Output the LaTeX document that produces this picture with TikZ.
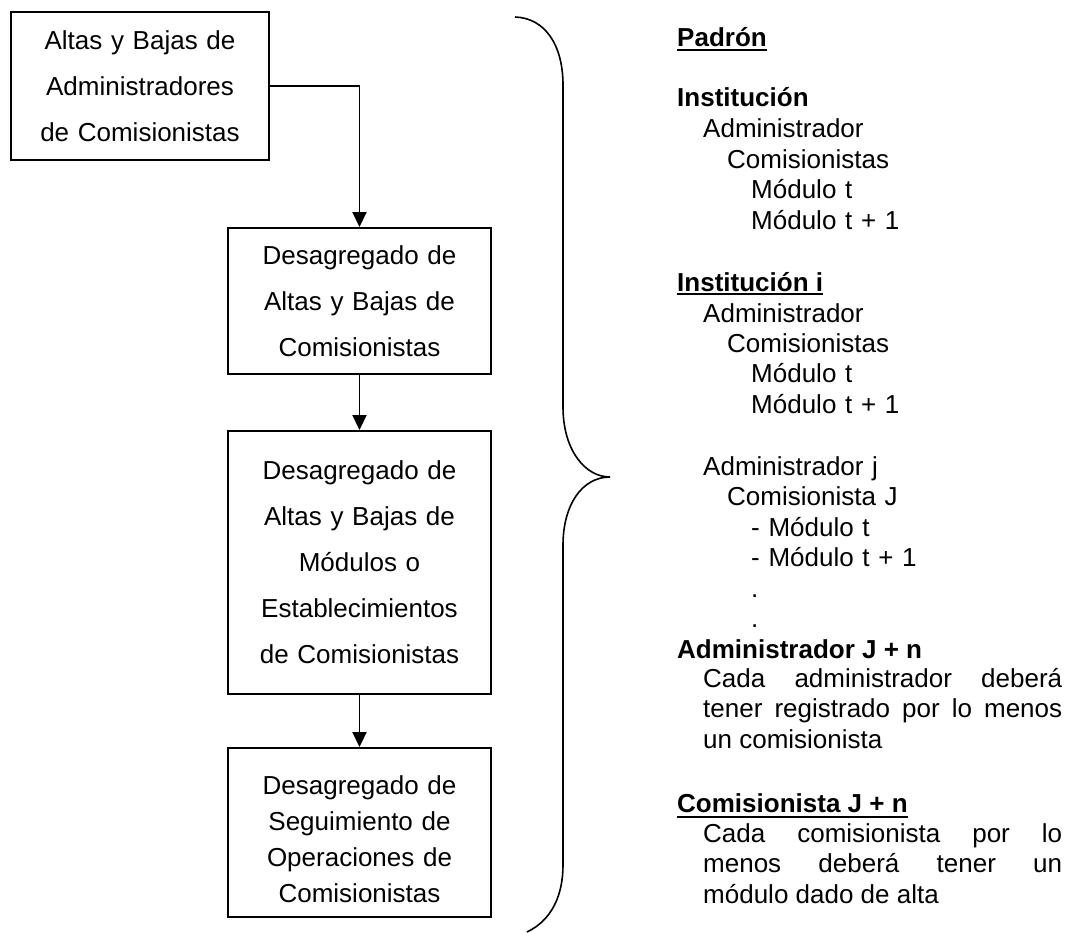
\documentclass[tikz,border=0pt]{standalone}
\usepackage{fontspec}
\setmainfont{Liberation Sans}
\usetikzlibrary{arrows.meta,positioning}

\begin{document}
\begin{tikzpicture}[x=1pt,y=-1pt,
    procbox/.style={draw, line width=1.9pt, inner sep=0pt, text width=250pt,
      align=center, font=\fontsize{26}{46}\selectfont},
    listtxt/.style={anchor=base west, inner sep=0pt, font=\fontsize{26}{30.5}\selectfont},
    parbox/.style={listtxt, text width=359pt, align=justify},
    flow/.style={-{Triangle[length=15pt,width=14pt]}, line width=1.9pt},
    uline/.style={line width=2pt}]
    \useasboundingbox (0,0) rectangle (1076,933);

    % Process boxes
    \node[procbox, minimum width=258pt, minimum height=148pt] (altas) at (140,86)
        {Altas y Bajas de\\Administradores\\de Comisionistas};
    \node[procbox, minimum width=263pt, minimum height=146pt] (desacom) at (359.5,301)
        {Desagregado de\\Altas y Bajas de\\Comisionistas};
    \node[procbox, minimum width=263pt, minimum height=263pt] (desamod) at (359.5,562.5)
        {Desagregado de\\Altas y Bajas de\\Módulos o\\Establecimientos\\de Comisionistas};
    \node[procbox, minimum width=263pt, minimum height=169pt,
        font=\fontsize{26}{36}\selectfont] (desaseg) at (359.5,832.5)
        {\rule{0pt}{33pt}Desagregado de\\Seguimiento de\\Operaciones de\\Comisionistas};

    % Flow arrows
    \draw[flow] (altas.east) -| (desacom.north);
    \draw[flow] (desacom) -- (desamod);
    \draw[flow] (desamod) -- (desaseg);

    % Brace
    \draw[line width=1.6pt] (515,17) .. controls (545,18) and (563,45) .. (563,85)
        -- (563,407) .. controls (563,450) and (585,477) .. (610,477)
        .. controls (582,477) and (563,505) .. (563,545)
        -- (563,865) .. controls (563,895) and (552,920) .. (527,932);

    % Padron
    \node[listtxt] (padron) at (677,47) {\bfseries Padrón};
    \draw[uline] ([yshift=-3pt]padron.base west) -- ([yshift=-3pt]padron.base east);

    % Institucion
    \node[listtxt] (inst) at (677,107) {\bfseries Institución};
    \node[listtxt, text width=330pt, align=left] (instlist) at (703,138)
        {Administrador\\\hspace*{24pt}Comisionistas\\\hspace*{48pt}Módulo t\\\hspace*{48pt}Módulo t + 1};

    % Institucion i
    \node[listtxt] (insti) at (677,291) {\bfseries Institución i};
    \draw[uline] ([yshift=-3.5pt]insti.base west) -- ([yshift=-3.5pt]insti.base east);
    \node[listtxt, text width=330pt, align=left] (instilist) at (703,322)
        {Administrador\\\hspace*{24pt}Comisionistas\\\hspace*{48pt}Módulo t\\\hspace*{48pt}Módulo t + 1};
    \node[listtxt, text width=330pt, align=left] (adminj) at (703,475)
        {Administrador j\\\hspace*{24pt}Comisionista J\\\hspace*{48pt}- Módulo t\\\hspace*{48pt}- Módulo t + 1\\\hspace*{48pt}.\\\hspace*{48pt}.};

    % Administrador J + n
    \node[listtxt] (adminn) at (677,658) {\bfseries Administrador J + n};
    \node[parbox] (admintxt) at (703,687)
        {Cada administrador deberá\linebreak tener registrado por lo menos\linebreak un comisionista};

    % Comisionista J + n
    \node[listtxt] (comn) at (677,812) {\bfseries Comisionista J + n};
    \draw[uline] ([yshift=-4.5pt]comn.base west) -- ([yshift=-4.5pt]comn.base east);
    \node[parbox] (comtxt) at (703,842)
        {Cada comisionista por lo\linebreak menos deberá tener un\linebreak módulo dado de alta};
\end{tikzpicture}
\end{document}
